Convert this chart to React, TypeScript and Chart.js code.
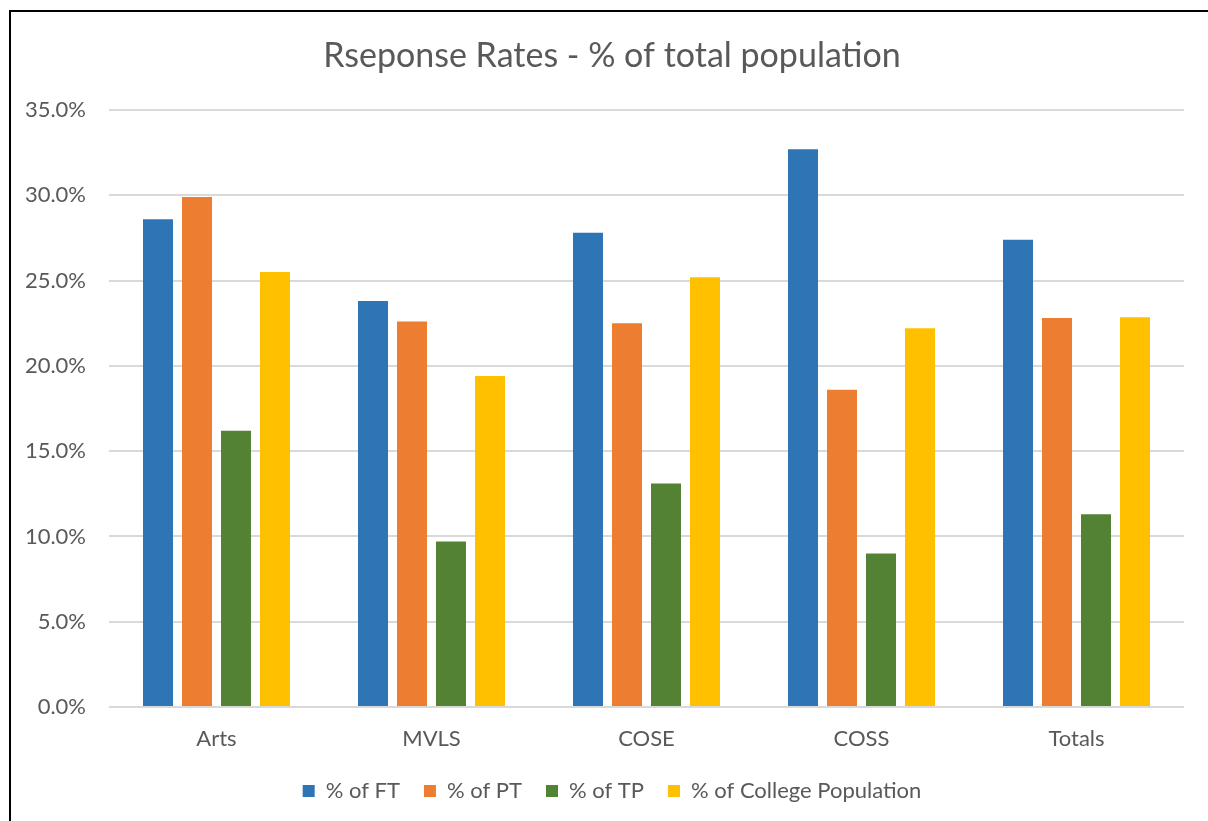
import React, { useEffect, useRef } from "react";
import { Chart, registerables } from "chart.js";

Chart.register(...registerables);

const categories = ["Arts", "MVLS", "COSE", "COSS", "Totals"];
const pctFT = [28.6, 23.8, 27.8, 32.7, 27.4];
const pctPT = [29.9, 22.6, 22.5, 18.6, 22.8];
const pctTP = [16.2, 9.7, 13.1, 9.0, 11.3];
const pctCollege = [25.5, 19.4, 25.2, 22.2, 22.85];
const seriesNames = ["% of FT", "% of PT", "% of TP", "% of College Population"];
const titleText = "Rseponse Rates - % of total population";

const FONT = "Lato, 'Open Sans', sans-serif";
const TEXT = "#595959";

export default function App() {
  const ref = useRef<HTMLCanvasElement | null>(null);
  useEffect(() => {
    if (!ref.current) return;
    const colors = ["#2E75B6", "#ED7D31", "#548235", "#FFC000"];
    const data = [pctFT, pctPT, pctTP, pctCollege];
    const chart = new Chart(ref.current, {
      type: "bar",
      data: {
        labels: categories,
        datasets: seriesNames.map((n, i) => ({
          label: n,
          data: data[i],
          backgroundColor: colors[i],
          borderWidth: 0,
          categoryPercentage: 0.7256,
          barPercentage: 0.769,
          yAxisID: "y",
        })),
      },
      options: {
        animation: false,
        responsive: false,
        devicePixelRatio: 1,
        layout: { padding: { left: 16, right: 0, top: 0, bottom: 9 } },
        plugins: {
          tooltip: { enabled: false },
          title: {
            display: true,
            text: titleText,
            color: TEXT,
            font: { family: FONT, size: 34, weight: "normal" },
            padding: { top: 35.6, bottom: 33.6 },
          },
          legend: {
            position: "bottom",
            labels: {
              color: TEXT,
              font: { family: FONT, size: 22 },
              boxWidth: 12,
              boxHeight: 12,
              padding: 24,
            },
          },
        },
        scales: {
          x: {
            grid: { display: false, drawTicks: false },
            border: { display: false },
            ticks: { color: TEXT, font: { family: FONT, size: 22 }, padding: 19 },
            afterFit: (s: any) => {
              s.height = 49;
            },
          },
          y: {
            min: 0,
            max: 35,
            grid: { color: "#D9D9D9", lineWidth: 2, drawTicks: false },
            border: { display: false },
            ticks: {
              stepSize: 5,
              color: TEXT,
              font: { family: FONT, size: 22 },
              padding: 23,
              callback: (v: any) => Number(v).toFixed(1) + "%",
            },
            afterFit: (s: any) => {
              s.width = 93;
            },
          },
          yRight: {
            type: "linear",
            position: "right",
            min: 0,
            max: 35,
            display: true,
            grid: { display: false, drawTicks: false },
            border: { display: false },
            ticks: { display: false },
            afterFit: (s: any) => {
              s.width = 24;
            },
          },
        },
      },
    });
    return () => chart.destroy();
  }, []);
  return (
    <div style={{ position: "fixed", left: 0, top: 0, width: 1208, height: 821, background: "#fff", overflow: "hidden" }}>
      <canvas ref={ref} width={1208} height={821} style={{ position: "absolute", left: 0, top: 0, width: 1208, height: 821 }} />
      <div style={{ position: "absolute", left: 9, top: 10, width: 1300, height: 900, borderLeft: "2px solid #000", borderTop: "2px solid #000" }} />
    </div>
  );
}
